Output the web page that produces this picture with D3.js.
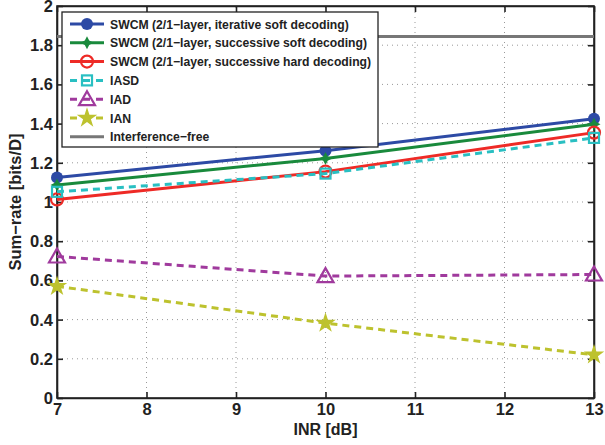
<!DOCTYPE html>
<html lang="en">
<head>
<meta charset="UTF-8">
<title>Sum-rate vs INR</title>
<script src="https://cdn.jsdelivr.net/npm/d3@7"></script>
<style>
body{margin:0;background:#fff;}
text{font-family:"Liberation Sans",Arial,Helvetica,sans-serif;font-weight:bold;fill:#222;}
</style>
</head>
<body>
<script>
// data
var inr = [7, 10, 13];
var swcmIter = [1.125, 1.262, 1.425];
var swcmSoft = [1.087, 1.222, 1.397];
var swcmHard = [1.013, 1.155, 1.354];
var iasd = [1.052, 1.145, 1.327];
var iad = [0.722, 0.622, 0.630];
var ian = [0.570, 0.382, 0.220];
var interfFree = 1.845;
var xTicks = [7, 8, 9, 10, 11, 12, 13];
var yTicks = [0, 0.2, 0.4, 0.6, 0.8, 1, 1.2, 1.4, 1.6, 1.8, 2];
var names = ["SWCM (2/1\u2212layer, iterative soft decoding)",
             "SWCM (2/1\u2212layer, successive soft decoding)",
             "SWCM (2/1\u2212layer, successive hard decoding)",
             "IASD", "IAD", "IAN", "Interference\u2212free"];

var width = 605, height = 445;
var m = {left:57, right:11, top:6, bottom:47};
var svg = d3.select("body").append("svg").attr("width", width).attr("height", height);

var x = d3.scaleLinear().domain([7, 13]).range([m.left, width - m.right]);
var y = d3.scaleLinear().domain([0, 2]).range([height - m.bottom, m.top]);

// grid
var grid = svg.append("g").attr("stroke", "#999").attr("stroke-width", 1).attr("stroke-dasharray", "1,4");
grid.selectAll(".gx").data(xTicks.slice(1, -1)).enter().append("line")
  .attr("x1", function(d){return x(d);}).attr("x2", function(d){return x(d);})
  .attr("y1", y(0)).attr("y2", y(2));
grid.selectAll(".gy").data(yTicks.slice(1, -1)).enter().append("line")
  .attr("y1", function(d){return y(d);}).attr("y2", function(d){return y(d);})
  .attr("x1", x(7)).attr("x2", x(13));

// axes
var fmt = function(d){return String(+d.toFixed(1));};
svg.append("g").attr("transform", "translate(0," + y(0) + ")")
  .call(d3.axisBottom(x).tickValues(xTicks).tickFormat(fmt).tickSizeInner(-6).tickSizeOuter(0).tickPadding(5))
  .call(function(g){g.selectAll("text").attr("font-size", 16.5);});
svg.append("g").attr("transform", "translate(" + x(7) + ",0)")
  .call(d3.axisLeft(y).tickValues(yTicks).tickFormat(fmt).tickSizeInner(-6).tickSizeOuter(0).tickPadding(4))
  .call(function(g){g.selectAll("text").attr("font-size", 16.5).attr("dy", "0.33em");});
svg.append("g").attr("transform", "translate(0," + y(2) + ")")
  .call(d3.axisTop(x).tickValues(xTicks).tickSizeInner(-6).tickSizeOuter(0).tickFormat(""));
svg.append("g").attr("transform", "translate(" + x(13) + ",0)")
  .call(d3.axisRight(y).tickValues(yTicks).tickSizeInner(-6).tickSizeOuter(0).tickFormat(""));
svg.selectAll(".domain, .tick line").attr("stroke", "#222").attr("stroke-width", 1.6);
svg.append("rect").attr("x", x(7)).attr("y", y(2)).attr("width", x(13) - x(7)).attr("height", y(0) - y(2))
  .attr("fill", "none").attr("stroke", "#222").attr("stroke-width", 1.6);

svg.append("text").attr("x", (x(7) + x(13)) / 2).attr("y", 435).attr("text-anchor", "middle")
  .attr("font-size", 16).text("INR [dB]");
svg.append("text").attr("transform", "translate(21," + y(1) + ") rotate(-90)").attr("text-anchor", "middle")
  .attr("font-size", 16.5).text("Sum\u2212rate [bits/D]");

// series
var series = [
  {v: swcmIter, c: "#2d4aa5", dash: null, mk: "circle"},
  {v: swcmSoft, c: "#198a3c", dash: null, mk: "diamond"},
  {v: swcmHard, c: "#ee2a26", dash: null, mk: "ocircle"},
  {v: iasd, c: "#29bfc2", dash: "7,5", mk: "square"},
  {v: iad, c: "#a03a9d", dash: "7,5", mk: "triangle"},
  {v: ian, c: "#bdc22e", dash: "7,5", mk: "star"}
];

svg.append("line").attr("x1", x(7)).attr("x2", x(13)).attr("y1", y(interfFree)).attr("y2", y(interfFree))
  .attr("stroke", "#777").attr("stroke-width", 3);

var line = d3.line().x(function(d, i){return x(inr[i]);}).y(function(d){return y(d);});

function marker(g, type, c) {
  if (type == "circle") g.append("circle").attr("r", 6).attr("fill", c);
  else if (type == "diamond") g.append("path").attr("d", "M0,-6.5L2.2,-2.2L6.5,0L2.2,2.2L0,6.5L-2.2,2.2L-6.5,0L-2.2,-2.2Z").attr("fill", c);
  else if (type == "ocircle") g.append("circle").attr("r", 6).attr("fill", "none").attr("stroke", c).attr("stroke-width", 2.2);
  else if (type == "square") g.append("rect").attr("x", -5).attr("y", -5).attr("width", 10).attr("height", 10)
    .attr("fill", "none").attr("stroke", c).attr("stroke-width", 2.2);
  else if (type == "triangle") g.append("path").attr("d", "M0,-8L8,6L-8,6Z").attr("fill", "none").attr("stroke", c).attr("stroke-width", 2.2);
  else if (type == "star") g.append("path").attr("d", d3.symbol().type(d3.symbolStar).size(130)).attr("fill", c);
}

var plot = svg.append("g");
series.forEach(function(s) {
  plot.append("path").datum(s.v).attr("d", line).attr("fill", "none").attr("stroke", s.c)
    .attr("stroke-width", 3).attr("stroke-dasharray", s.dash);
  s.v.forEach(function(d, i) {
    var g = plot.append("g").attr("transform", "translate(" + x(inr[i]) + "," + y(d) + ")");
    marker(g, s.mk, s.c);
  });
});

// legend
var lg = svg.append("g").attr("transform", "translate(62,12)");
lg.append("rect").attr("width", 316).attr("height", 135).attr("fill", "#fff").attr("stroke", "#222").attr("stroke-width", 1.3);
var all = series.concat([{c: "#777", dash: null, mk: null}]);
all.forEach(function(s, i) {
  var row = lg.append("g").attr("transform", "translate(0," + (12 + i * 18.8) + ")");
  row.append("line").attr("x1", 8).attr("x2", 42).attr("stroke", s.c).attr("stroke-width", 3)
    .attr("stroke-dasharray", s.dash ? "7,6" : null);
  if (s.mk) marker(row.append("g").attr("transform", "translate(25,0)"), s.mk, s.c);
  row.append("text").attr("x", 48).attr("y", 4.5).attr("font-size", 12.2).text(names[i]);
});
</script>
</body>
</html>
